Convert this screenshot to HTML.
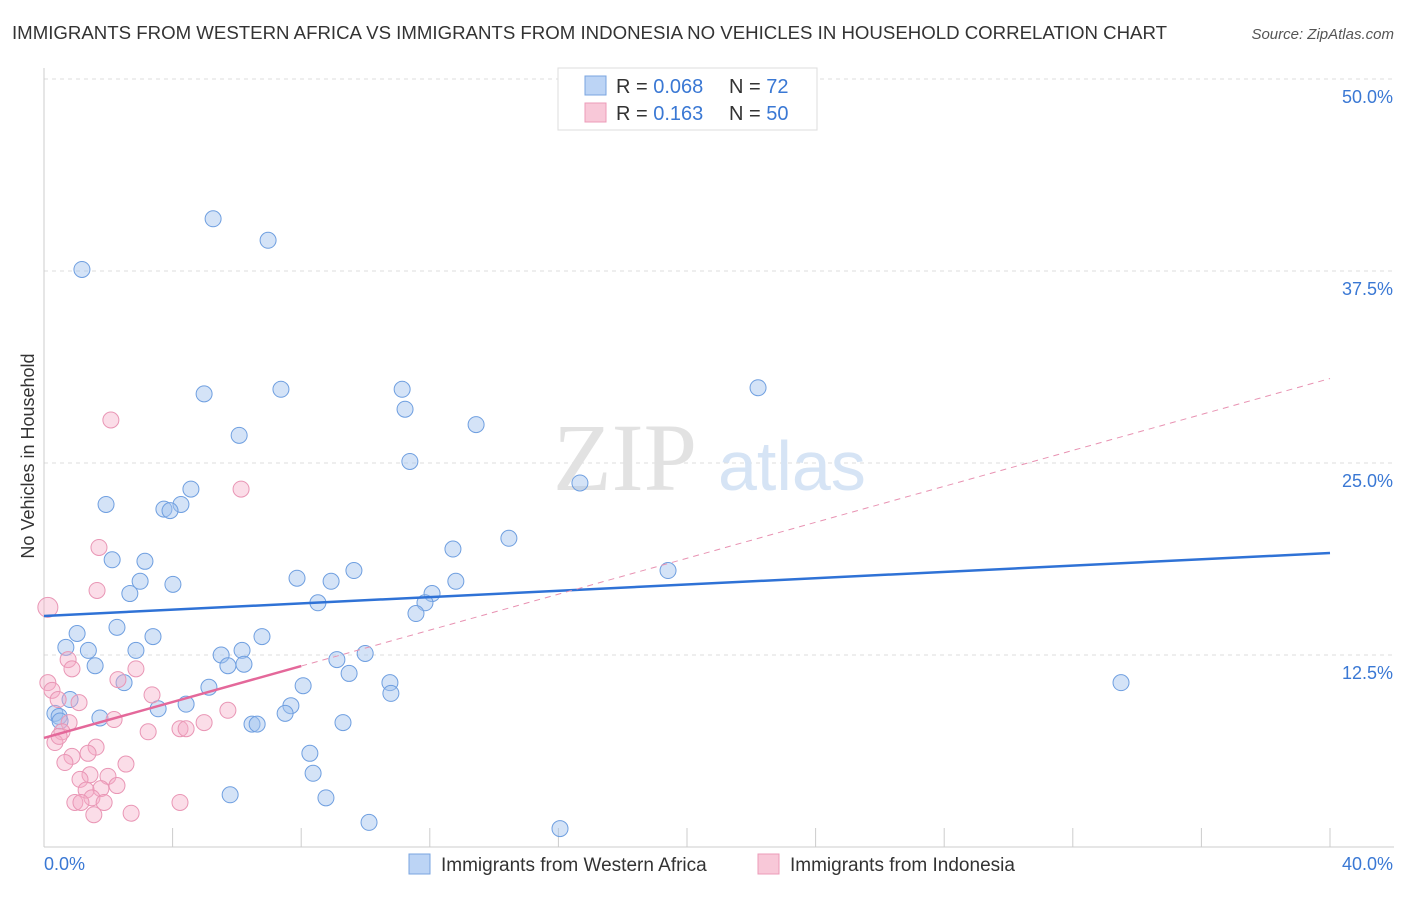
<!DOCTYPE html>
<html><head><meta charset="utf-8"><style>
body{margin:0;background:#fff;font-family:"Liberation Sans",sans-serif;}
</style></head><body>
<svg id="chart" width="1406" height="892" font-family="Liberation Sans, sans-serif">
<text x="12" y="39" font-size="18" fill="#333" textLength="1155" lengthAdjust="spacingAndGlyphs">IMMIGRANTS FROM WESTERN AFRICA VS IMMIGRANTS FROM INDONESIA NO VEHICLES IN HOUSEHOLD CORRELATION CHART</text>
<text x="1394" y="39" font-size="15" fill="#555" font-style="italic" text-anchor="end">Source: ZipAtlas.com</text>
<text x="0" y="0" transform="translate(34,456) rotate(-90)" font-size="18" fill="#333" text-anchor="middle">No Vehicles in Household</text>
<g id="grid"></g>
<text x="553" y="490" font-size="96" fill="#e2e2e2" style="font-family:'Liberation Serif',serif">ZIP</text>
<text x="718" y="490" font-size="70" fill="#d6e4f5">atlas</text>
<g id="marks"></g>
<g>
<rect x="558" y="68" width="259" height="62" fill="#fff" stroke="#ddd"/>
<rect x="585" y="76" width="21" height="19" fill="#bcd4f5" stroke="#7aa5e0"/>
<rect x="585" y="103" width="21" height="19" fill="#f8c8d8" stroke="#ec9bb8"/>
<text x="616" y="93" font-size="20" fill="#333">R = <tspan fill="#3a78d4">0.068</tspan></text>
<text x="729" y="93" font-size="20" fill="#333">N = <tspan fill="#3a78d4"> 72</tspan></text>
<text x="616" y="120" font-size="20" fill="#333">R = <tspan fill="#3a78d4"> 0.163</tspan></text>
<text x="729" y="120" font-size="20" fill="#333">N = <tspan fill="#3a78d4">50</tspan></text>
</g>
<g>
<rect x="409" y="854" width="21" height="20" fill="#bcd4f5" stroke="#7aa5e0"/>
<text x="441" y="871" font-size="19" fill="#333">Immigrants from Western Africa</text>
<rect x="758" y="854" width="21" height="20" fill="#f8c8d8" stroke="#ec9bb8"/>
<text x="790" y="871" font-size="19" fill="#333">Immigrants from Indonesia</text>
</g>
</svg>
<script>
const yTicks=[12.5,25,37.5,50];
const yTickLabels=["12.5%","25.0%","37.5%","50.0%"];
const xTicks=[0,4,8,12,16,20,24,28,32,36,40];
const xEndLabels=["0.0%","40.0%"];
const blueX=[1.18,5.26,6.97,4.98,7.37,11.14,11.23,22.21,6.07,13.44,11.38,16.67,1.93,4.57,4.26,3.73,3.92,14.46,12.72,2.12,3.14,2.99,2.67,4.01,7.87,8.93,9.64,12.81,19.41,12.07,11.85,8.52,11.57,1.03,2.27,3.39,6.78,0.68,1.38,2.86,5.51,6.16,9.99,9.11,1.59,5.72,6.22,9.49,2.49,10.76,33.5,5.13,8.06,10.79,0.81,4.42,3.55,7.68,7.5,0.34,0.47,1.74,6.47,6.63,9.3,8.27,8.37,5.79,8.77,10.11,16.05,0.5];
const blueY=[37.6,40.9,39.5,29.5,29.8,29.8,28.5,29.9,26.8,27.5,25.1,23.7,22.3,23.3,22.3,22.0,21.9,20.1,19.4,18.7,18.6,17.3,16.5,17.1,17.5,17.3,18.0,17.3,18.0,16.5,15.9,15.9,15.2,13.9,14.3,13.7,13.7,13.0,12.8,12.8,12.5,12.8,12.6,12.2,11.8,11.8,11.9,11.3,10.7,10.7,10.7,10.4,10.5,10.0,9.6,9.3,9.0,9.2,8.7,8.7,8.5,8.4,8.0,8.0,8.1,6.1,4.8,3.4,3.2,1.6,1.2,8.2];
const pinkX=[0.12,2.08,6.13,1.71,1.65,0.75,0.87,2.86,0.12,0.25,2.3,3.36,1.09,0.44,5.72,4.98,2.18,0.78,4.23,4.42,3.24,0.56,0.34,0.47,1.62,1.37,0.87,0.65,2.55,1.99,1.43,1.12,1.31,1.77,2.27,1.49,0.96,1.15,1.87,4.23,1.55,2.71];
const pinkY=[15.6,27.8,23.3,19.5,16.7,12.2,11.6,11.6,10.7,10.2,10.9,9.9,9.4,9.6,8.9,8.1,8.3,8.1,7.7,7.7,7.5,7.5,6.8,7.2,6.5,6.1,5.9,5.5,5.4,4.6,4.7,4.4,3.7,3.8,4.0,3.2,2.9,2.9,2.9,2.9,2.1,2.2];
const blueTrend=[15.04,19.14];
const pinkTrend=[7.1,30.5];
const pinkSolidEnd=8;
const X0=44,X1=1330,Y0=847,Y1=79;
const sx=v=>X0+(v/40)*(X1-X0);
const sy=v=>Y0-(v/50)*(Y0-Y1);
const NS="http://www.w3.org/2000/svg";
const grid=document.getElementById('grid'),marks=document.getElementById('marks');
function mk(tag,attrs,parent){const e=document.createElementNS(NS,tag);for(const k in attrs)e.setAttribute(k,attrs[k]);parent.appendChild(e);return e;}
yTicks.forEach((t,i)=>{
 const l=mk('line',{x1:X0,x2:1394,y1:sy(t),y2:sy(t),stroke:'#ddd','stroke-dasharray':'4,4'},grid);
 
 
 const tx=mk('text',{x:1393,y:sy(t)+24,'font-size':18,fill:'#3a78d4','text-anchor':'end'},grid);
 tx.textContent=yTickLabels[i];
 
 
});
const ax=mk('line',{x1:X0,x2:1394,y1:Y0,y2:Y0,stroke:'#ccc'},grid);


const ay=mk('line',{x1:X0,x2:X0,y1:68,y2:Y0,stroke:'#ccc'},grid);


xTicks.forEach(t=>{
 const l=mk('line',{x1:sx(t),x2:sx(t),y1:828,y2:Y0,stroke:'#ccc'},grid);
 
 
});
[[0,'start',44],[40,'end',1393]].forEach((d,i)=>{
 const tx=mk('text',{x:d[2],y:870,'font-size':18,fill:'#3a78d4','text-anchor':d[1]},grid);
 tx.textContent=xEndLabels[i];
 
 
});
blueX.forEach((x,i)=>{
 const c=mk('circle',{cx:sx(x),cy:sy(blueY[i]),r:8,fill:'rgba(160,192,238,0.45)',stroke:'#6f9fe0','stroke-width':1},marks);
 
 
});
pinkX.forEach((x,i)=>{
 const c=mk('circle',{cx:sx(x),cy:sy(pinkY[i]),r:i==0?10:8,fill:'rgba(244,170,198,0.4)',stroke:'#e996b5','stroke-width':1},marks);
 
 
});
const bl=mk('line',{x1:sx(0),y1:sy(blueTrend[0]),x2:sx(40),y2:sy(blueTrend[1]),stroke:'#2f72d6','stroke-width':2.5},marks);


const pAt=x=>pinkTrend[0]+(pinkTrend[1]-pinkTrend[0])*x/40;
const pd=mk('line',{x1:sx(pinkSolidEnd),y1:sy(pAt(pinkSolidEnd)),x2:sx(40),y2:sy(pinkTrend[1]),stroke:'#e892b2','stroke-width':1,'stroke-dasharray':'6,5'},marks);


const ps=mk('line',{x1:sx(0),y1:sy(pinkTrend[0]),x2:sx(pinkSolidEnd),y2:sy(pAt(pinkSolidEnd)),stroke:'#e4689a','stroke-width':2.5},marks);


</script>
</body></html>
